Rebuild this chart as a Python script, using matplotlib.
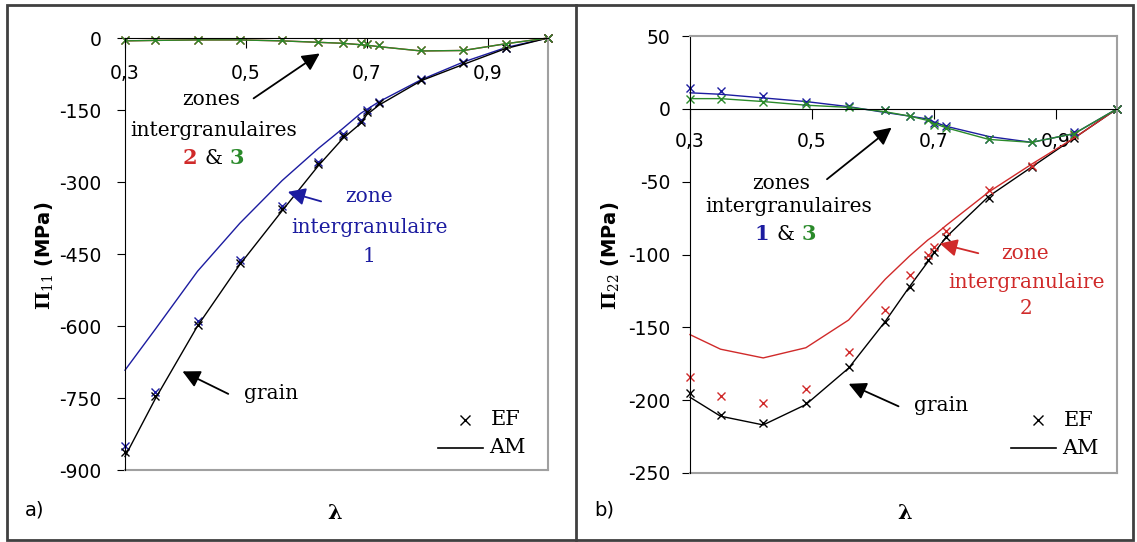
import matplotlib.pyplot as plt
from matplotlib.patches import Rectangle
from matplotlib.lines import Line2D

plt.rcParams['font.family'] = 'DejaVu Sans'
plt.rcParams['mathtext.fontset'] = 'dejavuserif'

# lambda values where the EF points were computed
lam = [0.30, 0.35, 0.42, 0.49, 0.56, 0.62, 0.66, 0.69, 0.70, 0.72, 0.79, 0.86, 0.93, 1.00]

# a) Pi_11 (MPa)
p11_grain_ef = [-862, -745, -598, -469, -356, -262, -205, -175, -154, -136, -87, -53, -21, 0]
p11_grain_am = [-872, -752, -600, -472, -360, -266, -210, -178, -160, -140, -89, -55, -22, 0]
p11_z1_ef = [-850, -738, -590, -462, -350, -258, -201, -171, -151, -133, -85, -51, -20, 0]
p11_z1_am = [-692, -607, -486, -386, -297, -230, -189, -157, -149, -133, -87, -50, -20, 0]
p11_z2_ef = [-5, -4, -4, -4, -5, -8, -10, -11, -13, -15, -25, -25, -12, 0]
p11_z2_am = [-6, -5, -4, -4, -6, -9, -11, -14, -15, -18, -27, -26, -12, 0]
p11_z3_ef = [-5, -4, -4, -4, -5, -8, -10, -11, -13, -15, -25, -25, -12, 0]
p11_z3_am = [-6, -5, -4, -4, -6, -9, -11, -14, -15, -18, -27, -26, -12, 0]

# b) Pi_22 (MPa)
p22_grain_ef = [-195, -210, -216, -202, -177, -146, -122, -104, -98, -88, -61, -40, -20, 0]
p22_grain_am = [-198, -211, -217, -203, -178, -146, -122, -105, -99, -88, -60, -40, -20, 0]
p22_z2_ef = [-184, -197, -202, -192, -167, -138, -114, -100, -95, -84, -56, -39, -18, 0]
p22_z2_am = [-155, -165, -171, -164, -145, -117, -101, -90, -87, -80, -57, -38, -20, 0]
p22_z1_ef = [14, 12, 9, 5, 2, -1, -5, -7, -10, -12, -21, -23, -16, 0]
p22_z1_am = [11, 10, 7.5, 5, 1.5, -2.5, -5, -7, -9, -12, -19, -23, -17, 0]
p22_z3_ef = [7, 7, 5, 3, 1, -1, -5, -8, -11, -13, -21, -23, -17, 0]
p22_z3_am = [7, 7, 5, 2.5, 1, -2, -5, -8, -10, -13, -21, -23, -17, 0]

xticks = [0.3, 0.5, 0.7, 0.9]
xticklabels = ['0,3', '0,5', '0,7', '0,9']
yticks11 = [0, -150, -300, -450, -600, -750, -900]
yticks22 = [50, 0, -50, -100, -150, -200, -250]

BLUE = '#1c1ca0'
RED = '#d02a2a'
GREEN = '#2a8a2a'
GREY = '#a0a0a0'
SERIF = 'DejaVu Serif'

W, H = 1137, 542
fig = plt.figure(figsize=(W / 100, H / 100), dpi=100)
ax1 = fig.add_axes([125 / W, 72 / H, 423 / W, 432 / H])
ax2 = fig.add_axes([690 / W, 69 / H, 427 / W, 437 / H])


def series(ax, ef, am, color):
    ax.plot(lam, am, '-', color=color, lw=1.0, clip_on=False)
    ax.plot(lam, ef, 'x', color=color, ms=6, mew=1.0, clip_on=False)


def style(ax, ylo, yhi, yticks, xpad, ypad, top_grey):
    ax.set_xlim(0.3, 1.0)
    ax.set_ylim(ylo, yhi)
    ax.spines['bottom'].set_position(('data', 0))
    ax.spines['bottom'].set_color('black')
    ax.spines['left'].set_color('black')
    ax.spines['right'].set_color(GREY)
    ax.spines['right'].set_linewidth(1.5)
    if top_grey:
        ax.spines['top'].set_color(GREY)
        ax.spines['top'].set_linewidth(1.5)
    else:
        ax.spines['top'].set_visible(False)
    ax.plot([0, 1], [0, 0], transform=ax.transAxes, color=GREY, lw=1.5, clip_on=False)
    ax.set_xticks(xticks)
    ax.set_xticklabels(xticklabels)
    ax.set_yticks(yticks)
    ax.set_yticklabels([str(v) for v in yticks])
    ax.tick_params(axis='x', direction='out', length=7, pad=xpad, labelsize=13.5)
    ax.tick_params(axis='y', direction='out', length=6, pad=ypad, labelsize=13.5)


def arrow(ax, head, tail, color):
    ax.annotate('', xy=head, xytext=tail,
                arrowprops=dict(arrowstyle='-|>,head_length=0.75,head_width=0.38',
                                color=color, lw=1.3, mutation_scale=14))


def legend(ax, mx, my, ly):
    ax.plot([mx], [my], 'x', color='black', ms=6.5, mew=1.0, transform=ax.transAxes)
    ax.text(mx + 0.06, my, 'EF', transform=ax.transAxes, family=SERIF, fontsize=15, va='center')
    ax.plot([mx - 0.064, mx + 0.042], [ly, ly], color='black', lw=1.2, transform=ax.transAxes)
    ax.text(mx + 0.057, ly, 'AM', transform=ax.transAxes, family=SERIF, fontsize=15, va='center')


def colored_line(ax, x, y, left, lcol, right, rcol):
    ax.text(x, y, '&', family=SERIF, fontsize=14.5, ha='center', va='center')
    ax.annotate(left, xy=(x, y), xytext=(-17, 0), textcoords='offset points', family=SERIF,
                fontsize=15, fontweight='bold', color=lcol, ha='center', va='center')
    ax.annotate(right, xy=(x, y), xytext=(17, 0), textcoords='offset points', family=SERIF,
                fontsize=15, fontweight='bold', color=rcol, ha='center', va='center')


# ---- a) Pi_11
series(ax1, p11_z1_ef, p11_z1_am, BLUE)
series(ax1, p11_grain_ef, p11_grain_am, 'black')
series(ax1, p11_z2_ef, p11_z2_am, RED)
series(ax1, p11_z3_ef, p11_z3_am, GREEN)
style(ax1, -900, 0, yticks11, 12, 11, False)

ax1.text(0.442, -129, 'zones', family=SERIF, fontsize=14.5, ha='center', va='center')
ax1.text(0.446, -192, 'intergranulaires', family=SERIF, fontsize=14.5, ha='center', va='center')
colored_line(ax1, 0.446, -250, '2', RED, '3', GREEN)
arrow(ax1, (0.626, -29), (0.509, -129), 'black')

ax1.text(0.704, -331, 'zone', family=SERIF, fontsize=14.5, ha='center', va='center', color=BLUE)
ax1.text(0.704, -394, 'intergranulaire', family=SERIF, fontsize=14.5, ha='center', va='center', color=BLUE)
ax1.text(0.704, -456, '1', family=SERIF, fontsize=14.5, ha='center', va='center', color=BLUE)
arrow(ax1, (0.565, -319), (0.629, -342), BLUE)

ax1.text(0.542, -740, 'grain', family=SERIF, fontsize=14.5, ha='center', va='center')
arrow(ax1, (0.391, -692), (0.475, -744), 'black')
legend(ax1, 0.804, 0.116, 0.051)

# ---- b) Pi_22
series(ax2, p22_grain_ef, p22_grain_am, 'black')
series(ax2, p22_z2_ef, p22_z2_am, RED)
series(ax2, p22_z1_ef, p22_z1_am, BLUE)
series(ax2, p22_z3_ef, p22_z3_am, GREEN)
style(ax2, -250, 50, yticks22, 10, 8, True)

ax2.text(0.449, -51, 'zones', family=SERIF, fontsize=14.5, ha='center', va='center')
ax2.text(0.461, -67, 'intergranulaires', family=SERIF, fontsize=14.5, ha='center', va='center')
colored_line(ax2, 0.456, -86, '1', BLUE, '3', GREEN)
arrow(ax2, (0.634, -11.7), (0.521, -49.5), 'black')

ax2.text(0.849, -99.6, 'zone', family=SERIF, fontsize=14.5, ha='center', va='center', color=RED)
ax2.text(0.851, -119.5, 'intergranulaire', family=SERIF, fontsize=14.5, ha='center', va='center', color=RED)
ax2.text(0.851, -137.4, '2', family=SERIF, fontsize=14.5, ha='center', va='center', color=RED)
arrow(ax2, (0.705, -92), (0.777, -99.6), RED)

ax2.text(0.711, -204, 'grain', family=SERIF, fontsize=14.5, ha='center', va='center')
arrow(ax2, (0.556, -188), (0.646, -205), 'black')
legend(ax2, 0.815, 0.121, 0.057)

# axis titles and panel letters
fig.text(44 / W, 1 - 256 / H, r'$\mathbf{\Pi}_{11}$ (MPa)', rotation=90, fontsize=14,
         fontweight='bold', ha='center', va='center')
fig.text(610 / W, 1 - 256 / H, r'$\mathbf{\Pi}_{22}$ (MPa)', rotation=90, fontsize=14,
         fontweight='bold', ha='center', va='center')
fig.text(335 / W, 1 - 513 / H, r'$\mathbf{\lambda}$', fontsize=15, ha='center', va='center')
fig.text(905 / W, 1 - 513 / H, r'$\mathbf{\lambda}$', fontsize=15, ha='center', va='center')
fig.text(35 / W, 1 - 510 / H, 'a)', fontsize=14, ha='center', va='center')
fig.text(604 / W, 1 - 510 / H, 'b)', fontsize=14, ha='center', va='center')

# frame around the two panels
fig.patches.append(Rectangle((7 / W, 2 / H), 1126 / W, 535 / H, transform=fig.transFigure,
                             fill=False, edgecolor='#404040', lw=2))
fig.lines.append(Line2D([576 / W, 576 / W], [2 / H, 537 / H], transform=fig.transFigure,
                        color='#404040', lw=2))

fig.savefig('out.png', dpi=100)
